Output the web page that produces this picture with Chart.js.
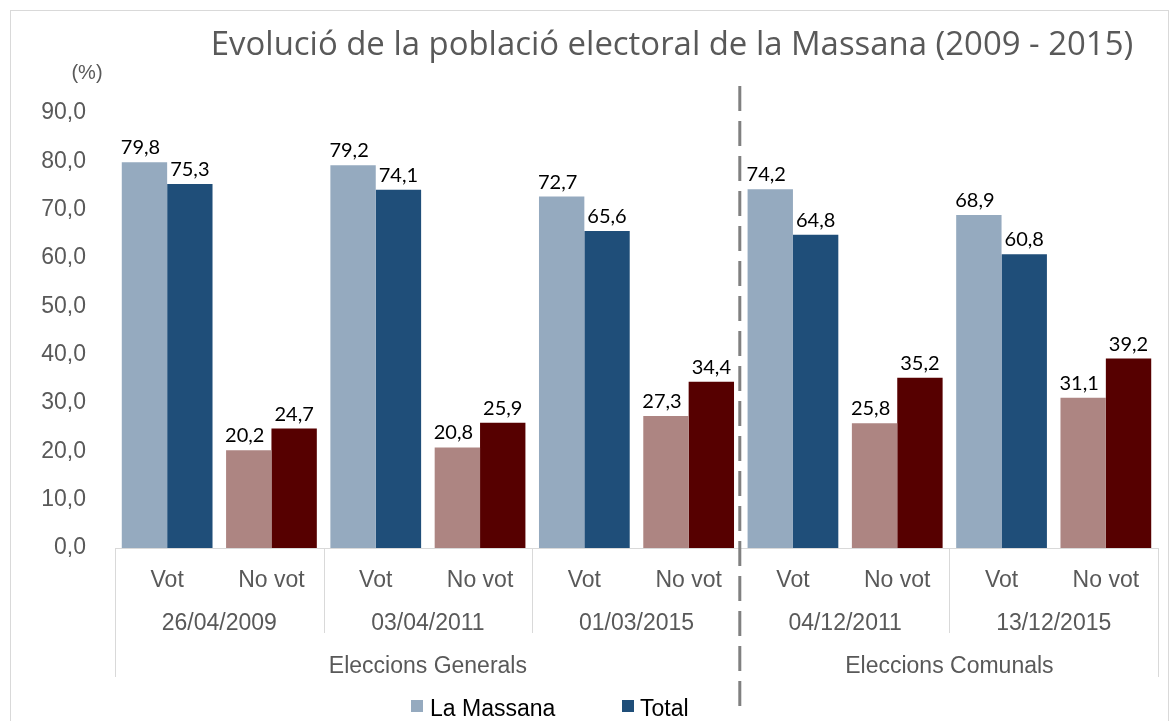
<!DOCTYPE html>
<html>
<head>
<meta charset="utf-8">
<script src="https://cdn.jsdelivr.net/npm/chart.js@4.4.0/dist/chart.umd.min.js"></script>
<style>
  html, body { margin: 0; padding: 0; background: #fff; }
  #wrap { width: 1170px; height: 721px; position: relative; }
</style>
</head>
<body>
<div id="wrap"><canvas id="chart-main" width="1170" height="721"></canvas></div>
<script>
/* global Chart */

const titleText = "Evolució de la població electoral de la Massana (2009 - 2015)";
const unitText = "(%)";
const dates = ["26/04/2009", "03/04/2011", "01/03/2015", "04/12/2011", "13/12/2015"];
const voteTypes = ["Vot", "No vot"];
const groups = ["Eleccions Generals", "Eleccions Comunals"];
const groupSpans = [3, 2];
const seriesNames = ["La Massana", "Total"];
const laMassana = [79.8, 20.2, 79.2, 20.8, 72.7, 27.3, 74.2, 25.8, 68.9, 31.1];
const total = [75.3, 24.7, 74.1, 25.9, 65.6, 34.4, 64.8, 35.2, 60.8, 39.2];
const yTicks = [0, 10, 20, 30, 40, 50, 60, 70, 80, 90];

const colLight = { Vot: "#95aabf", "No vot": "#ad8582" };
const colDark = { Vot: "#1f4e79", "No vot": "#560000" };
const grey = "#595959";
const axisFont = "'Liberation Sans', Arial, sans-serif";
const labelFont = "Lato, 'Noto Sans', sans-serif";

const labels = [];
for (const d of dates) for (const t of voteTypes) labels.push(`${t}|${d}`);
const typeOf = (i) => voteTypes[i % voteTypes.length];
const fmt = (v) => v.toFixed(1).replace(".", ",");

const extras = {
  id: "extras",
  afterDraw(chart) {
    const { ctx, chartArea } = chart;
    const xs = chart.scales.x;
    const step = xs.getPixelForValue(1) - xs.getPixelForValue(0);
    const left = xs.getPixelForValue(0) - step / 2;
    ctx.save();

    // frame
    ctx.strokeStyle = "#d9d9d9";
    ctx.lineWidth = 1;
    ctx.strokeRect(10.5, 10.5, 1158, 730);

    // title
    ctx.fillStyle = grey;
    ctx.textAlign = "center";
    ctx.textBaseline = "alphabetic";
    let size = 34;
    ctx.font = `${size}px 'Open Sans', sans-serif`;
    size = size * 923 / ctx.measureText(titleText).width;
    ctx.font = `${size}px 'Open Sans', sans-serif`;
    ctx.fillText(titleText, 672, 55);

    ctx.font = `20px ${axisFont}`;
    ctx.fillText(unitText, 87, 79);

    // data labels
    ctx.fillStyle = "#000";
    ctx.font = `20px ${labelFont}`;
    chart.data.datasets.forEach((ds, di) => {
      const meta = chart.getDatasetMeta(di);
      meta.data.forEach((bar, i) => {
        const dx = di === 0 ? -4 : 0;
        ctx.fillText(fmt(ds.data[i]), bar.x + dx, bar.y - 8);
      });
    });

    // multi-level category labels
    ctx.fillStyle = grey;
    ctx.font = `23px ${axisFont}`;
    labels.forEach((l, i) => {
      ctx.fillText(typeOf(i), xs.getPixelForValue(i), 587);
    });
    dates.forEach((d, k) => {
      const cx = left + (k * 2 + 1) * step;
      ctx.fillText(d, cx, 630);
    });
    let start = 0;
    groups.forEach((g, k) => {
      const cx = left + (start + groupSpans[k] / 2) * 2 * step;
      ctx.fillText(g, cx, 673);
      start += groupSpans[k];
    });

    // separators
    ctx.strokeStyle = "#d9d9d9";
    ctx.lineWidth = 1;
    for (let k = 0; k <= dates.length; k++) {
      if (k === groupSpans[0]) continue;
      const x = Math.round(left + k * 2 * step) + 0.5;
      const bottom = k === 0 || k === dates.length ? 677 : 633;
      ctx.beginPath();
      ctx.moveTo(x, chartArea.bottom);
      ctx.lineTo(x, bottom);
      ctx.stroke();
    }
    const dashX = left + groupSpans[0] * 2 * step - 1;
    ctx.strokeStyle = "#808080";
    ctx.lineWidth = 3;
    ctx.setLineDash([25, 10]);
    ctx.beginPath();
    ctx.moveTo(dashX, 86);
    ctx.lineTo(dashX, 706);
    ctx.stroke();
    ctx.setLineDash([]);

    // legend
    const legendPos = [[411, 430], [622, 640]];
    ctx.font = `23px ${axisFont}`;
    ctx.textAlign = "left";
    chart.data.datasets.forEach((ds, di) => {
      const [bx, tx] = legendPos[di];
      ctx.fillStyle = ds.backgroundColor[0];
      ctx.fillRect(bx, 700, 12, 12);
      ctx.fillStyle = "#000";
      ctx.fillText(ds.label, tx, 716);
    });
    ctx.restore();
  },
};

const ctx = document.getElementById("chart-main").getContext("2d");
new Chart(ctx, {
  type: "bar",
  data: {
    labels,
    datasets: [
      {
        label: seriesNames[0],
        data: laMassana,
        backgroundColor: labels.map((l, i) => colLight[typeOf(i)]),
      },
      {
        label: seriesNames[1],
        data: total,
        backgroundColor: labels.map((l, i) => colDark[typeOf(i)]),
      },
    ],
  },
  options: {
    responsive: false,
    animation: false,
    layout: { padding: { top: 113, bottom: 173, left: 0, right: 12 } },
    categoryPercentage: 0.87,
    barPercentage: 1,
    plugins: {
      legend: { display: false },
      tooltip: { enabled: false },
    },
    scales: {
      x: {
        grid: { display: false },
        border: { display: true, color: "#d9d9d9", width: 1 },
        ticks: { display: false },
        afterFit: (s) => { s.height = 0; },
      },
      y: {
        min: 0,
        max: 90,
        afterBuildTicks: (s) => { s.ticks = yTicks.map((v) => ({ value: v })); },
        grid: { display: false },
        border: { display: false },
        ticks: {
          padding: 21,
          color: grey,
          font: { family: axisFont, size: 23 },
          callback: (v) => fmt(v),
        },
        afterFit: (s) => { s.width = 115; },
      },
    },
  },
  plugins: [extras],
});
</script>
</body>
</html>
